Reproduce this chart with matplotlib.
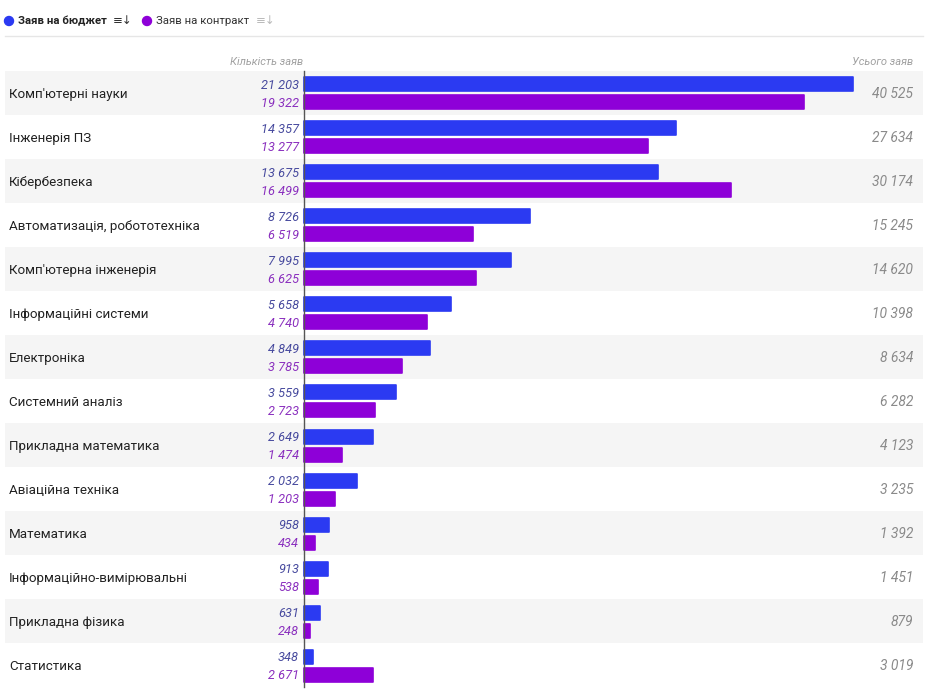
import matplotlib.pyplot as plt
from matplotlib.patches import Rectangle, Circle

plt.rcParams['font.family'] = ['Roboto', 'DejaVu Sans']

categories = ["Комп'ютерні науки", "Інженерія ПЗ", "Кібербезпека",
              "Автоматизація, робототехніка", "Комп'ютерна інженерія",
              "Інформаційні системи", "Електроніка", "Системний аналіз",
              "Прикладна математика", "Авіаційна техніка", "Математика",
              "Інформаційно-вимірювальні", "Прикладна фізика", "Статистика"]
budget = [21203, 14357, 13675, 8726, 7995, 5658, 4849, 3559, 2649, 2032, 958, 913, 631, 348]
contract = [19322, 13277, 16499, 6519, 6625, 4740, 3785, 2723, 1474, 1203, 434, 538, 248, 2671]
totals = [b + c for b, c in zip(budget, contract)]

BLUE = '#2b3af2'
PURPLE = '#8e00d8'
BLUE_TXT = '#474a9e'
PURPLE_TXT = '#8a2fbe'
GRAY_TXT = '#8a8a8a'

W, H = 953, 689
fig = plt.figure(figsize=(W / 100, H / 100), dpi=100)
ax = fig.add_axes([0, 0, 1, 1])
ax.axis('off')

# pixel layout -> data coords
x0_px, xmax_px = 304, 853
s = max(budget) / (xmax_px - x0_px)  # units per pixel
top_px, row_px = 71, 44


def px(x):
    return (x - x0_px) * s


def py(y):
    return (y - top_px) / row_px


ax.set_xlim(px(0), px(W))
ax.set_ylim(py(H), py(0))

n = len(categories)
for i in range(n):
    if i % 2 == 0:
        ax.add_patch(Rectangle((px(5), i), px(923) - px(5), 1, color='#f5f5f5', zorder=0, lw=0))

bh = 14 / row_px
yb = [i + (84.5 - top_px) / row_px for i in range(n)]
yc = [i + (102.5 - top_px) / row_px for i in range(n)]
ax.barh(yb, budget, height=bh, color=BLUE, edgecolor=BLUE, lw=1.2, joinstyle='round', zorder=2)
ax.barh(yc, contract, height=bh, color=PURPLE, edgecolor=PURPLE, lw=1.2, joinstyle='round', zorder=2)


def fmt(v):
    return f'{v:,}'.replace(',', ' ')


dy = 1.5 / row_px  # small downward nudge of texts
for i in range(n):
    ax.text(px(9), i + 0.5 + dy, categories[i], ha='left', va='center', fontsize=9.6, color='#222222')
    ax.text(px(299), yb[i] + dy * 0.7, fmt(budget[i]), ha='right', va='center', fontsize=9.2,
            style='italic', color=BLUE_TXT)
    ax.text(px(299), yc[i] + dy * 0.7, fmt(contract[i]), ha='right', va='center', fontsize=9.2,
            style='italic', color=PURPLE_TXT)
    ax.text(px(913), i + 0.5 + dy, fmt(totals[i]), ha='right', va='center', fontsize=10,
            style='italic', color=GRAY_TXT)

# axis line
ax.plot([0, 0], [0, py(687)], color='#555555', lw=1, zorder=3)

# headers
ax.text(px(303), py(62), 'Кількість заяв', ha='right', va='center', fontsize=8,
        style='italic', color='#a0a0a0')
ax.text(px(913), py(62), 'Усього заяв', ha='right', va='center', fontsize=8,
        style='italic', color='#a0a0a0')

# legend
ax.plot([px(5), px(923)], [py(36), py(36)], color='#e6e6e6', lw=1)
fig.patches.append(Circle((9, H - 21), 4.5, transform=None, color=BLUE))
fig.patches.append(Circle((147, H - 21), 4.5, transform=None, color=PURPLE))
ax.text(px(18), py(21), 'Заяв на бюджет', ha='left', va='center', fontsize=8.2,
        fontweight='bold', color='#222222')
ax.text(px(113), py(21), '≡↓', ha='left', va='center', fontsize=8.5, color='#333333',
        family='DejaVu Sans')
ax.text(px(156), py(21), 'Заяв на контракт', ha='left', va='center', fontsize=8.2,
        color='#333333')
ax.text(px(256), py(21), '≡↓', ha='left', va='center', fontsize=8.5, color='#bbbbbb',
        family='DejaVu Sans')

fig.savefig('out.png', dpi=100)
